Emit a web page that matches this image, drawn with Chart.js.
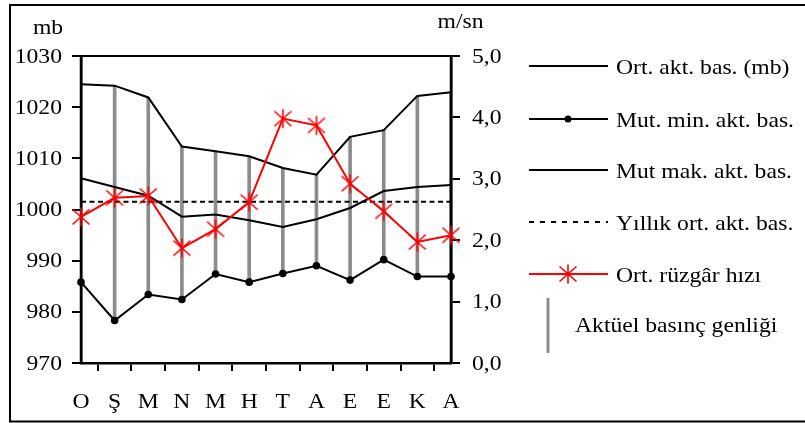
<!DOCTYPE html>
<html>
<head>
<meta charset="utf-8">
<script src="https://cdn.jsdelivr.net/npm/chart.js@4/dist/chart.umd.min.js"></script>
<style>
  html, body { margin: 0; padding: 0; background: #fff; }
  #wrap { width: 805px; height: 423px; }
</style>
</head>
<body>
<div id="wrap"><canvas id="c" width="805" height="423"></canvas></div>
<script>
// Monthly pressure (mb) and wind speed (m/sn)
const months = ['O', 'Ş', 'M', 'N', 'M', 'H', 'T', 'A', 'E', 'E', 'K', 'A'];
const meanPressure = [1006.1, 1004.4, 1002.7, 998.6, 999.0, 997.9, 996.6, 998.1, 1000.3, 1003.6, 1004.4, 1004.8];
const minPressure  = [985.8, 978.3, 983.4, 982.4, 987.4, 985.8, 987.5, 989.0, 986.2, 990.2, 986.9, 986.9];
const maxPressure  = [1024.5, 1024.2, 1021.9, 1012.3, 1011.4, 1010.4, 1008.1, 1006.8, 1014.2, 1015.5, 1022.2, 1022.9];
const annualMean   = [1001.5, 1001.5, 1001.5, 1001.5, 1001.5, 1001.5, 1001.5, 1001.5, 1001.5, 1001.5, 1001.5, 1001.5];
const windSpeed    = [2.38, 2.69, 2.72, 1.87, 2.18, 2.62, 3.98, 3.87, 2.92, 2.47, 1.97, 2.08];

const pressureRange = { min: 970, max: 1030, step: 10 };
const windRange = { min: 0, max: 5, step: 1 };

const legendLabels = [
  'Ort. akt. bas. (mb)',
  'Mut. min. akt. bas.',
  'Mut mak. akt. bas.',
  'Yıllık ort. akt. bas.',
  'Ort. rüzgâr hızı',
  'Aktüel basınç genliği'
];

const FONT = '"Liberation Serif", "Times New Roman", serif';
const FS = 21.5;     // font size
const SX = 1.1;      // horizontal text stretch
const RED = '#ff0000';
const GRAY = '#8c8c8c';

// six-armed asterisk used as the wind marker
function makeStar() {
  const c = document.createElement('canvas');
  c.width = 22; c.height = 22;
  const g = c.getContext('2d');
  g.strokeStyle = RED;
  g.lineWidth = 1.6;
  g.beginPath();
  g.moveTo(11, 1.5); g.lineTo(11, 20.5);
  g.moveTo(2.5, 3.5); g.lineTo(19.5, 18.5);
  g.moveTo(19.5, 3.5); g.lineTo(2.5, 18.5);
  g.stroke();
  return c;
}
const star = makeStar();

function drawText(ctx, s, x, y, align) {
  ctx.save();
  ctx.font = FS + 'px ' + FONT;
  ctx.fillStyle = '#000';
  ctx.textBaseline = 'alphabetic';
  ctx.textAlign = 'left';
  const w = ctx.measureText(s).width * SX;
  const x0 = align === 'right' ? x - w : align === 'center' ? x - w / 2 : x;
  ctx.translate(x0, y);
  ctx.scale(SX, 1);
  ctx.fillText(s, 0, 0);
  ctx.restore();
}

function line(ctx, x1, y1, x2, y2, w, color, dash) {
  ctx.save();
  ctx.strokeStyle = color;
  ctx.lineWidth = w;
  ctx.setLineDash(dash || []);
  ctx.beginPath();
  ctx.moveTo(x1, y1);
  ctx.lineTo(x2, y2);
  ctx.stroke();
  ctx.restore();
}

const BAR_INDEX = 0;

const decor = {
  id: 'decor',
  afterDatasetDraw(chart, args) {
    if (args.index !== BAR_INDEX) return;
    const ctx = chart.ctx, a = chart.chartArea;
    // axis lines over the range bars
    line(ctx, a.left, a.top - 1, a.left, a.bottom + 1, 2.5, '#000');
    line(ctx, a.right, a.top - 1, a.right, a.bottom + 1, 2.5, '#000');
  },
  afterDraw(chart) {
    const ctx = chart.ctx, a = chart.chartArea;
    const sx = chart.scales.x, sy = chart.scales.y, sy1 = chart.scales.y1;

    // plot frame top
    line(ctx, a.left, a.top, a.right, a.top, 2, '#000');

    // outer frame
    ctx.save();
    ctx.strokeStyle = '#000';
    ctx.lineWidth = 2;
    ctx.beginPath();
    ctx.moveTo(810, 5); ctx.lineTo(10, 5); ctx.lineTo(10, 421.5); ctx.lineTo(810, 421.5);
    ctx.stroke();
    ctx.restore();

    // tick labels
    sy.ticks.forEach((t, i) => {
      drawText(ctx, String(t.value), 62, sy.getPixelForTick(i) + 6.5, 'right');
    });
    sy1.ticks.forEach((t, i) => {
      drawText(ctx, t.value.toFixed(1).replace('.', ','), 472, sy1.getPixelForTick(i) + 6.5, 'left');
    });
    months.forEach((m, i) => {
      drawText(ctx, m, sx.getPixelForTick(i), 407.5, 'center');
    });

    // axis units
    drawText(ctx, 'mb', 48, 34, 'center');
    drawText(ctx, 'm/sn', 460.5, 28, 'center');

    // legend
    const lx1 = 529, lx2 = 608, tx = 616;
    const rows = [66, 119, 170, 222, 274];
    line(ctx, lx1, rows[0], lx2, rows[0], 2, '#000');
    line(ctx, lx1, rows[1], lx2, rows[1], 2, '#000');
    ctx.save();
    ctx.fillStyle = '#000';
    ctx.beginPath();
    ctx.arc(568, rows[1], 3.5, 0, Math.PI * 2);
    ctx.fill();
    ctx.restore();
    line(ctx, lx1, rows[2], lx2, rows[2], 2, '#000');
    line(ctx, lx1, rows[3], lx2, rows[3], 2, '#000', [5, 6]);
    line(ctx, lx1, rows[4], lx2, rows[4], 2, RED);
    ctx.drawImage(star, 568 - 11, rows[4] - 11);
    for (let i = 0; i < 5; i++) drawText(ctx, legendLabels[i], tx, rows[i] + 7.5, 'left');
    line(ctx, 548, 298, 548, 353, 3, GRAY);
    drawText(ctx, legendLabels[5], 575, 332, 'left');
  }
};

const hidden = 'rgba(0,0,0,0)';
const gridStyle = { drawOnChartArea: false, drawTicks: true, tickLength: 9, color: '#000', lineWidth: 2 };

new Chart(document.getElementById('c'), {
  data: {
    labels: months,
    datasets: [
      {
        type: 'bar', label: legendLabels[5], yAxisID: 'y',
        data: months.map((m, i) => [minPressure[i], maxPressure[i]]),
        backgroundColor: GRAY, barThickness: 3, grouped: false, order: 10
      },
      {
        type: 'line', label: legendLabels[0], yAxisID: 'y', data: meanPressure,
        borderColor: '#000', borderWidth: 2, pointRadius: 0, tension: 0, clip: false, order: 5
      },
      {
        type: 'line', label: legendLabels[1], yAxisID: 'y', data: minPressure,
        borderColor: '#000', borderWidth: 2, pointRadius: 3.8, pointBackgroundColor: '#000',
        pointBorderWidth: 0, tension: 0, clip: false, order: 4
      },
      {
        type: 'line', label: legendLabels[2], yAxisID: 'y', data: maxPressure,
        borderColor: '#000', borderWidth: 2, pointRadius: 0, tension: 0, clip: false, order: 3
      },
      {
        type: 'line', label: legendLabels[3], yAxisID: 'y', data: annualMean,
        borderColor: '#000', borderWidth: 2, borderDash: [5, 3.5], pointRadius: 0, tension: 0, clip: false, order: 2
      },
      {
        type: 'line', label: legendLabels[4], yAxisID: 'y1', data: windSpeed,
        borderColor: RED, borderWidth: 2, pointStyle: star, pointRadius: 10, tension: 0, clip: false, order: 1
      }
    ]
  },
  options: {
    responsive: false,
    animation: false,
    events: [],
    layout: { padding: { top: 56, left: 0, right: 0, bottom: 0 } },
    plugins: { legend: { display: false }, tooltip: { enabled: false } },
    scales: {
      x: {
        offset: false,
        grid: { ...gridStyle, tickLength: 8 },
        border: { color: '#000', width: 2.5 },
        ticks: { color: hidden, autoSkip: false, maxRotation: 0, font: { family: FONT, size: FS } },
        afterFit(s) { s.height = 60; }
      },
      y: {
        position: 'left', min: pressureRange.min, max: pressureRange.max,
        grid: gridStyle,
        border: { color: '#000', width: 2.5 },
        ticks: { stepSize: pressureRange.step, color: hidden, font: { family: FONT, size: FS } },
        afterFit(s) { s.width = 81; }
      },
      y1: {
        position: 'right', min: windRange.min, max: windRange.max,
        grid: gridStyle,
        border: { color: '#000', width: 2.5 },
        ticks: { stepSize: windRange.step, color: hidden, font: { family: FONT, size: FS } },
        afterFit(s) { s.width = 354; }
      }
    }
  },
  plugins: [decor]
});
</script>
</body>
</html>
